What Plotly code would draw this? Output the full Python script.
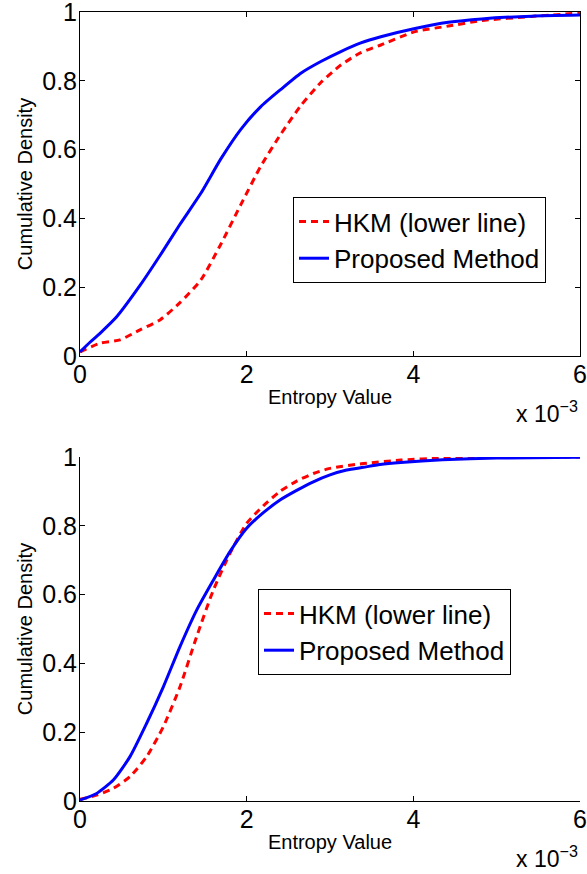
import plotly.graph_objects as go
from plotly.subplots import make_subplots

# ---- data (entropy in units of 1e-3) ----
top_x_prop = [0, 0.12, 0.24, 0.44, 0.72, 0.96, 1.20, 1.45, 1.69, 1.93, 2.17, 2.41, 2.65, 2.89, 3.13, 3.37, 3.61, 4.02, 4.42, 4.82, 5.42, 6.0]
top_prop = [0.012, 0.040, 0.066, 0.114, 0.205, 0.292, 0.383, 0.473, 0.573, 0.659, 0.725, 0.775, 0.822, 0.856, 0.885, 0.910, 0.928, 0.952, 0.970, 0.980, 0.988, 0.991]
top_x_hkm = [0, 0.24, 0.48, 0.72, 0.96, 1.20, 1.45, 1.69, 1.93, 2.17, 2.41, 2.65, 2.89, 3.13, 3.37, 3.61, 4.02, 4.42, 4.82, 5.42, 6.0]
top_hkm = [0.012, 0.037, 0.047, 0.076, 0.105, 0.155, 0.221, 0.325, 0.440, 0.552, 0.645, 0.728, 0.795, 0.846, 0.882, 0.904, 0.943, 0.959, 0.975, 0.987, 0.997]

bot_x_prop = [0, 0.2, 0.4, 0.6, 0.8, 1.0, 1.2, 1.4, 1.6, 1.8, 2.0, 2.2, 2.4, 2.6, 2.8, 3.0, 3.2, 3.4, 3.6, 3.85, 4.35, 5.0, 6.0]
bot_prop = [0.003, 0.022, 0.061, 0.129, 0.226, 0.332, 0.449, 0.555, 0.642, 0.725, 0.793, 0.838, 0.875, 0.903, 0.928, 0.948, 0.962, 0.970, 0.978, 0.984, 0.992, 0.997, 0.999]
bot_x_hkm = [0, 0.2, 0.4, 0.6, 0.8, 1.0, 1.2, 1.4, 1.6, 1.8, 2.0, 2.2, 2.4, 2.6, 2.8, 3.0, 3.4, 3.85, 4.35, 4.8, 6.0]
bot_hkm = [0.005, 0.017, 0.037, 0.071, 0.129, 0.216, 0.332, 0.478, 0.613, 0.720, 0.807, 0.858, 0.900, 0.930, 0.952, 0.967, 0.981, 0.991, 0.997, 1.0, 1.0]

x_ticks = [0, 2, 4, 6]
y_ticks = [0, 0.2, 0.4, 0.6, 0.8, 1.0]
y_tick_text = ["0", "0.2", "0.4", "0.6", "0.8", "1"]

name_hkm = "HKM (lower line)"
name_prop = "Proposed Method"
x_title = "Entropy Value"
y_title = "Cumulative Density"
exp_text = "x 10<sup>−3</sup>"

FONT = "Arial, 'Liberation Sans', Helvetica, sans-serif"
RED = "#FF0000"
BLUE = "#0000FF"

fig = make_subplots(rows=2, cols=1, vertical_spacing=0.128)

fig.add_trace(go.Scatter(x=top_x_hkm, y=top_hkm, mode="lines", name=name_hkm,
                         line=dict(color=RED, width=3, dash="7px,5px", shape="spline", smoothing=0.6),
                         legend="legend"), row=1, col=1)
fig.add_trace(go.Scatter(x=top_x_prop, y=top_prop, mode="lines", name=name_prop,
                         line=dict(color=BLUE, width=3, shape="spline", smoothing=0.6),
                         legend="legend"), row=1, col=1)
fig.add_trace(go.Scatter(x=bot_x_hkm, y=bot_hkm, mode="lines", name=name_hkm,
                         line=dict(color=RED, width=3, dash="7px,5px", shape="spline", smoothing=0.6),
                         legend="legend2"), row=2, col=1)
fig.add_trace(go.Scatter(x=bot_x_prop, y=bot_prop, mode="lines", name=name_prop,
                         line=dict(color=BLUE, width=3, shape="spline", smoothing=0.6),
                         legend="legend2"), row=2, col=1)

common_x = dict(range=[0, 6], tickvals=x_ticks, ticks="inside", ticklen=5, tickcolor="black",
                showline=True, linecolor="black", linewidth=1, showgrid=False, zeroline=False,
                automargin=False, ticklabeloverflow="allow", ticklabelstandoff=-4,
                tickfont=dict(family=FONT, size=25, color="black"),
                title=dict(text=x_title, font=dict(family=FONT, size=20, color="black"), standoff=2))
common_y = dict(range=[0, 1], tickvals=y_ticks, ticktext=y_tick_text, ticks="inside", ticklen=5,
                tickcolor="black", showline=True, linecolor="black", linewidth=1, showgrid=False,
                zeroline=False, automargin=False, ticklabeloverflow="allow", ticklabelstandoff=-3,
                tickfont=dict(family=FONT, size=25, color="black"),
                title=dict(text=y_title, font=dict(family=FONT, size=20, color="black"), standoff=4))

fig.update_xaxes(**common_x, mirror="allticks", row=1, col=1)
fig.update_yaxes(**common_y, mirror="allticks", row=1, col=1)
fig.update_xaxes(**common_x, mirror=False, row=2, col=1)
fig.update_yaxes(**common_y, mirror=False, row=2, col=1)

legend_style = dict(bgcolor="white", bordercolor="black", borderwidth=1,
                    font=dict(family=FONT, size=26, color="black"),
                    xanchor="left", yanchor="top", tracegroupgap=0)

fig.update_layout(
    width=587, height=874,
    margin=dict(l=80, r=7, t=12, b=73, autoexpand=False),
    paper_bgcolor="white", plot_bgcolor="white",
    showlegend=True,
    legend=dict(**legend_style, x=0.426, y=0.7655),
    legend2=dict(**legend_style, x=0.356, y=0.2687),
    font=dict(family=FONT, color="black"),
)

# exponent labels
fig.add_annotation(text=exp_text, xref="paper", yref="paper", x=1.0, y=0.564,
                   xanchor="right", yanchor="top", yshift=-39, showarrow=False,
                   font=dict(family=FONT, size=23, color="black"))
fig.add_annotation(text=exp_text, xref="paper", yref="paper", x=1.0, y=0.0,
                   xanchor="right", yanchor="top", yshift=-39, showarrow=False,
                   font=dict(family=FONT, size=23, color="black"))

fig.write_html("out.html", config={"displayModeBar": False},
               post_script="document.body.style.margin='0';")
